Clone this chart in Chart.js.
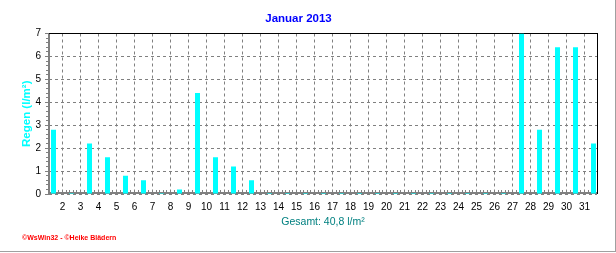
<!DOCTYPE html>
<html>
<head>
<meta charset="utf-8">
<title>Januar 2013</title>
<script src="https://cdn.jsdelivr.net/npm/chart.js@4/dist/chart.umd.min.js"></script>
<style>
  body { margin: 0; background: #fff; }
  #wrap { width: 616px; height: 253px; }
</style>
</head>
<body>
<div id="wrap"><canvas id="rainChart" width="616" height="253"></canvas></div>
<script>
const days = [1, 2, 3, 4, 5, 6, 7, 8, 9, 10, 11, 12, 13, 14, 15, 16,
              17, 18, 19, 20, 21, 22, 23, 24, 25, 26, 27, 28, 29, 30, 31];
const rain = [2.8, 0, 2.2, 1.6, 0.8, 0.6, 0, 0.2, 4.4, 1.6, 1.2, 0.6, 0, 0, 0, 0,
              0, 0, 0, 0, 0, 0, 0, 0, 0, 0, 7.0, 2.8, 6.4, 6.4, 2.2];
const tickDays = [2, 3, 4, 5, 6, 7, 8, 9, 10, 11, 12, 13, 14, 15, 16,
                  17, 18, 19, 20, 21, 22, 23, 24, 25, 26, 27, 28, 29, 30, 31];

const chartTitle = "Januar 2013";
const yTitle = "Regen (l/m²)";
const footer = "©WsWin32 - ©Heike Blädern";

const FONT = "Arial, 'Liberation Sans', sans-serif";
const total = rain.reduce((a, b) => a + b, 0);
const xTitle = "Gesamt: " + total.toFixed(1).replace(".", ",") + " l/m²";

// axis frame, minor ticks, outer panel and footer
const frame = {
    id: "frame",
    beforeDatasetsDraw(chart) {
        const { ctx, chartArea: a, scales } = chart;
        const l = Math.round(a.left), r = Math.round(a.right);
        const t = Math.floor(a.top), b = Math.round(a.bottom);
        ctx.save();
        ctx.fillStyle = "#808080";
        ctx.fillRect(l - 1, t, 2, b - t);
        ctx.fillRect(l - 1, b - 2, r - l + 1, 2);

        for (let k = 1; k < 35; k++) {
            if (k % 5 === 0) continue;
            const y = Math.round(scales.y.getPixelForValue(k / 5) - 0.5);
            ctx.fillRect(l - 3, y, 2, 1);
        }
        for (let k = 0; k < 160; k++) {
            const x = Math.round(scales.x.getPixelForValue(0.5 + k / 5) - 0.5);
            if (x <= l || x >= r) continue;
            ctx.fillRect(x, b - 4, 1, 2);
        }

        ctx.fillStyle = "#000";
        ctx.fillRect(l, t, r - l + 1, 1);
        ctx.fillRect(r, t, 1, b - t);
        ctx.restore();
    },
    afterDraw(chart) {
        const { ctx } = chart;
        ctx.save();
        ctx.fillStyle = "#a0a0a0";
        ctx.fillRect(chart.width - 1, 0, 1, chart.height - 1);
        ctx.fillRect(0, chart.height - 2, chart.width, 1);
        ctx.fillStyle = "#ff0000";
        ctx.font = "bold 7px " + FONT;
        ctx.textBaseline = "middle";
        ctx.fillText(footer, 22, 238.5);
        ctx.restore();
    }
};

const ctx = document.getElementById("rainChart").getContext("2d");

new Chart(ctx, {
    type: "bar",
    data: {
        labels: days,
        datasets: [{
            label: "Regen",
            data: rain,
            backgroundColor: "#00ffff",
            borderWidth: 0,
            barThickness: 5,
            minBarLength: 1,
            inflateAmount: 0
        }]
    },
    options: {
        responsive: false,
        devicePixelRatio: 1,
        animation: false,
        layout: { padding: { top: 0, left: 0, right: 19, bottom: 0 } },
        plugins: {
            legend: { display: false },
            tooltip: { enabled: false },
            title: {
                display: true,
                text: chartTitle,
                color: "#0000ff",
                font: { family: FONT, size: 11.5, weight: "bold" },
                padding: { top: 12, bottom: 7.7 }
            }
        },
        scales: {
            x: {
                type: "linear",
                min: 0.75,
                max: 31.194,
                bounds: "data",
                offset: false,
                grid: { offset: false, color: "#808080", drawTicks: false },
                border: { display: false, dash: [3, 3] },
                ticks: {
                    autoSkip: false,
                    maxRotation: 0,
                    padding: 7,
                    color: "#000",
                    font: { family: FONT, size: 10 },
                    callback: v => String(v + 0.5)
                },
                afterBuildTicks: s => { s.ticks = tickDays.map(d => ({ value: d - 0.5 })); },
                afterFit: s => { s.height = 59; },
                title: {
                    display: true,
                    text: xTitle,
                    color: "#008080",
                    font: { family: FONT, size: 10.5 },
                    padding: { top: 0, bottom: 24.7 }
                }
            },
            y: {
                min: 0,
                max: 7,
                ticks: {
                    stepSize: 1,
                    padding: 4,
                    color: "#000",
                    font: { family: FONT, size: 10 }
                },
                grid: { color: "#808080", tickLength: 4, tickColor: "#808080" },
                border: { display: false, dash: [3, 3] },
                afterFit: s => { s.width = 49; },
                title: {
                    display: true,
                    text: yTitle,
                    color: "#00ffff",
                    font: { family: FONT, size: 11.5, weight: "bold" },
                    padding: { top: 20, bottom: 0 }
                }
            }
        }
    },
    plugins: [frame]
});
</script>
</body>
</html>
